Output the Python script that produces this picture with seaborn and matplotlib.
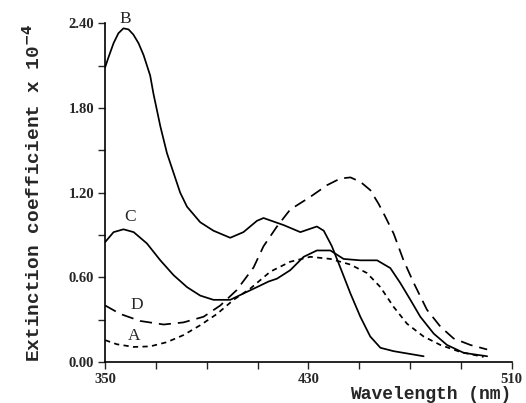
import numpy as np
import pandas as pd
import seaborn as sns
import matplotlib.pyplot as plt

# absorption spectra, values (extinction coefficient x 1e-4)
wl_A = [350, 354.6, 361.2, 367.7, 374.3, 380.8, 387.4, 394.0, 400.5, 407.1, 415.0,
        422.8, 430.7, 438.6, 446.5, 453.0, 458.3, 463.5, 468.8, 475.3, 481.9, 489.8, 498.9]
eps_A = [0.154, 0.125, 0.106, 0.11, 0.14, 0.19, 0.26, 0.34, 0.44, 0.52, 0.64,
         0.71, 0.745, 0.73, 0.69, 0.63, 0.53, 0.39, 0.27, 0.18, 0.12, 0.07, 0.035]

wl_B = [350, 351.3, 353.3, 355.2, 357.2, 359.2, 361.1, 363.1, 365.1, 367.7, 369.0,
        371.7, 374.3, 376.9, 379.5, 382.2, 387.4, 392.6, 399.2, 404.4, 409.7, 412.3,
        420.2, 426.8, 433.3, 436.0, 439.2, 442.5, 446.5, 450.4, 454.3, 458.3, 463.5,
        475.3]
eps_B = [2.09, 2.16, 2.26, 2.33, 2.365, 2.357, 2.32, 2.26, 2.175, 2.03, 1.90,
         1.67, 1.48, 1.34, 1.20, 1.10, 0.99, 0.93, 0.88, 0.92, 1.00, 1.02,
         0.97, 0.92, 0.96, 0.93, 0.82, 0.67, 0.485, 0.32, 0.18, 0.1, 0.076,
         0.04]

wl_C = [350, 353.3, 357.2, 361.2, 366.4, 371.7, 376.9, 382.2, 387.4, 392.6, 399.2,
        404.4, 409.7, 414.3, 417.6, 422.8, 428.1, 433.3, 438.6, 443.8, 450.4, 457.0,
        462.2, 466.1, 470.1, 474.0, 479.3, 484.5, 491.1, 500.3]
eps_C = [0.85, 0.92, 0.94, 0.92, 0.84, 0.72, 0.615, 0.53, 0.47, 0.44, 0.44,
         0.485, 0.53, 0.57, 0.59, 0.65, 0.745, 0.79, 0.79, 0.73, 0.72, 0.72,
         0.665, 0.56, 0.44, 0.32, 0.20, 0.12, 0.064, 0.04]

wl_D = [350, 355.9, 363.8, 373.0, 380.8, 388.7, 395.3, 401.8, 408.4, 412.3, 417.6,
        422.8, 430.7, 437.3, 442.5, 446.5, 450.4, 454.3, 457.6, 460.2, 463.5, 467.4,
        471.4, 476.6, 481.9, 487.1, 493.7, 500.3]
eps_D = [0.40, 0.34, 0.29, 0.265, 0.28, 0.32, 0.40, 0.51, 0.67, 0.82, 0.96,
         1.08, 1.17, 1.253, 1.30, 1.308, 1.277, 1.218, 1.12, 1.03, 0.91, 0.72,
         0.56, 0.37, 0.25, 0.166, 0.12, 0.088]

curves = {"A": (wl_A, eps_A), "B": (wl_B, eps_B), "C": (wl_C, eps_C), "D": (wl_D, eps_D)}
dash_styles = {"A": (0, (3, 2.5)), "B": "-", "C": "-", "D": (0, (7, 4))}
label_pos = {"B": (357.8, 2.43), "C": (359.8, 1.03), "D": (362.5, 0.40), "A": (361.2, 0.185)}

sns.set_style("ticks")
plt.rcParams["font.family"] = ["Liberation Serif", "DejaVu Serif"]

fig = plt.figure(figsize=(5.26, 4.03), dpi=100)
ax = fig.add_axes([0.2, 0.102, 0.773, 0.84])

for name, (wl, eps) in curves.items():
    df = pd.DataFrame({"wl": wl, "eps": eps})
    sns.lineplot(data=df, x="wl", y="eps", ax=ax, color="black", lw=1.25,
                 linestyle=dash_styles[name], sort=False)
    lx, ly = label_pos[name]
    ax.text(lx, ly, name, fontsize=12.5, ha="center", va="center")

ax.set_xlim(350, 510)
ax.set_ylim(0, 2.4)
ax.set_xticks([350, 430, 510])
ax.set_xticks(np.arange(370, 510, 20), minor=True)
ax.set_yticks([0, 0.6, 1.2, 1.8, 2.4])
ax.set_yticks([0.3, 0.9, 1.5, 2.1], minor=True)
ax.set_xticklabels(["350", "430", "510"])
ax.set_yticklabels(["0.00", "0.60", "1.20", "1.80", "2.40"])
ax.tick_params(axis="both", which="major", length=5, width=1, labelsize=10.5, pad=3)
ax.tick_params(axis="both", which="minor", length=5, width=1)
for lab in ax.get_xticklabels() + ax.get_yticklabels():
    lab.set_fontweight("bold")

for side in ["top", "right"]:
    ax.spines[side].set_visible(False)
for side in ["left", "bottom"]:
    ax.spines[side].set_linewidth(1.2)
    ax.spines[side].set_color("black")

ax.set_xlabel("Wavelength (nm)", fontsize=13, fontweight="bold",
              family="Liberation Mono", loc="right", labelpad=0)
ax.set_ylabel("Extinction coefficient x 10$^{\\mathbf{-4}}$", fontsize=14,
              fontweight="bold", family="Liberation Mono", labelpad=18)

fig.savefig("out.png", dpi=100)
